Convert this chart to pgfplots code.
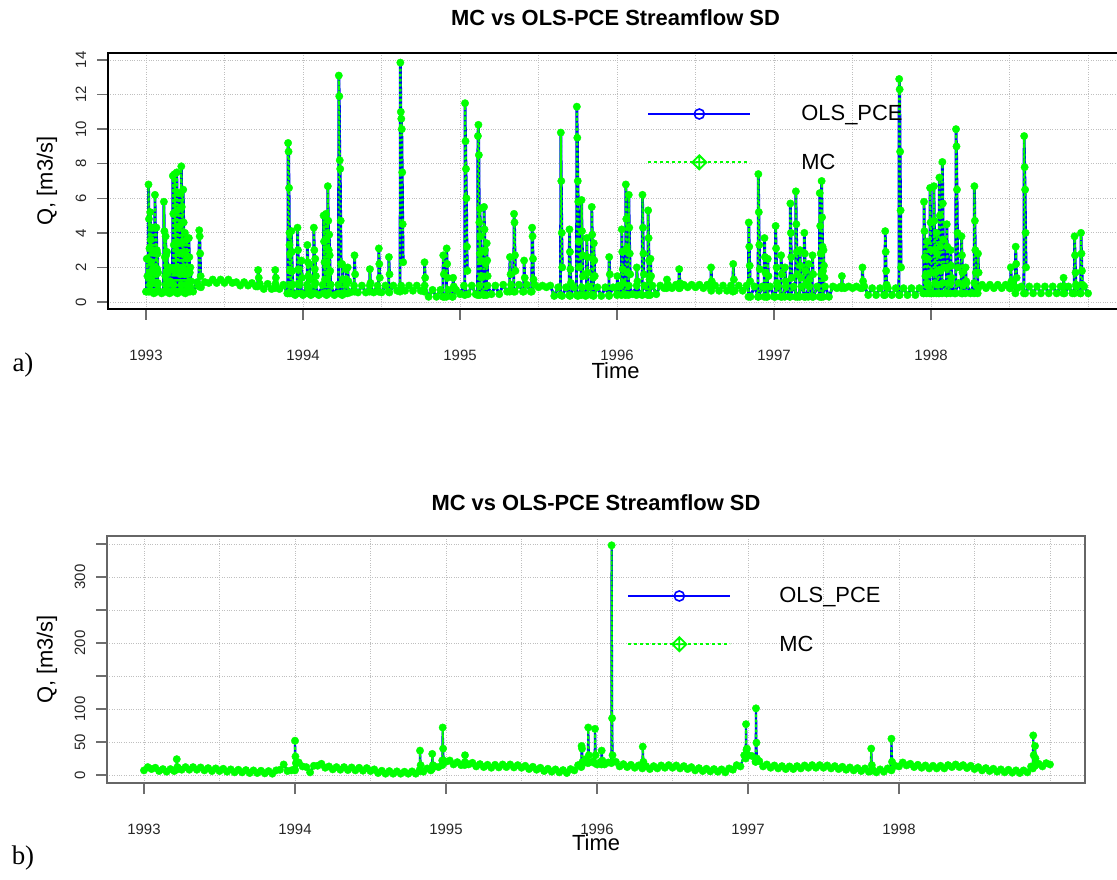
\documentclass[border=0pt]{standalone}
\usepackage{fontspec}
\setmainfont{Liberation Sans}
\newfontfamily\serifA{Liberation Serif}
\usepackage{pgfplots}
\usepackage{pgfplotstable}
\pgfplotsset{compat=1.18}
\definecolor{rblue}{RGB}{0,0,255}
\definecolor{rgreen}{RGB}{0,255,0}
\definecolor{tickgray}{RGB}{110,110,110}
\pgfdeclareplotmark{dplus}{%
  \pgfpathmoveto{\pgfqpoint{0pt}{\pgfplotmarksize}}%
  \pgfpathlineto{\pgfqpoint{\pgfplotmarksize}{0pt}}%
  \pgfpathlineto{\pgfqpoint{0pt}{-\pgfplotmarksize}}%
  \pgfpathlineto{\pgfqpoint{-\pgfplotmarksize}{0pt}}%
  \pgfpathclose
  \pgfpathmoveto{\pgfqpoint{0pt}{\pgfplotmarksize}}%
  \pgfpathlineto{\pgfqpoint{0pt}{-\pgfplotmarksize}}%
  \pgfpathmoveto{\pgfqpoint{\pgfplotmarksize}{0pt}}%
  \pgfpathlineto{\pgfqpoint{-\pgfplotmarksize}{0pt}}%
  \pgfusepathqstroke}

% ---------- panel a: baseline ----------
\pgfplotstableread[row sep=\\]{t q\\
1993.000 0.6\\1993.025 1.0\\1993.050 0.5\\1993.075 1.0\\1993.100 0.5\\1993.125 1.0\\1993.150 0.5\\1993.175 1.0\\1993.200 0.5\\1993.225 1.0\\
1993.250 0.5\\1993.275 1.0\\1993.300 0.6\\1993.325 1.15\\1993.350 0.85\\1993.375 1.15\\1993.400 1.1\\1993.425 1.3\\1993.450 1.1\\1993.475 1.3\\
1993.500 1.1\\1993.525 1.3\\1993.550 1.1\\1993.575 1.15\\1993.600 0.95\\1993.625 1.15\\1993.650 0.95\\1993.675 1.1\\1993.700 0.9\\1993.725 1.05\\
1993.750 0.75\\1993.775 1.05\\1993.800 0.75\\1993.825 1.05\\1993.850 0.75\\1993.875 1.0\\1993.900 0.5\\1993.925 1.0\\1993.950 0.4\\1993.975 1.0\\
1994.000 0.4\\1994.025 1.0\\1994.050 0.4\\1994.075 1.0\\1994.100 0.4\\1994.125 1.0\\1994.150 0.4\\1994.175 1.0\\1994.200 0.4\\1994.225 1.0\\
1994.250 0.4\\1994.275 1.0\\1994.300 0.55\\1994.325 0.95\\1994.350 0.55\\1994.375 0.95\\1994.400 0.55\\1994.425 0.95\\1994.450 0.55\\1994.475 0.95\\
1994.500 0.55\\1994.525 0.95\\1994.550 0.55\\1994.575 0.95\\1994.600 0.65\\1994.625 0.95\\1994.650 0.65\\1994.675 0.95\\1994.700 0.65\\1994.725 0.95\\
1994.750 0.65\\1994.775 0.95\\1994.800 0.3\\1994.825 0.7\\1994.850 0.3\\1994.875 0.7\\1994.900 0.3\\1994.925 0.7\\1994.950 0.3\\1994.975 0.7\\
1995.000 0.45\\1995.025 0.95\\1995.050 0.45\\1995.075 0.95\\1995.100 0.45\\1995.125 0.95\\1995.150 0.45\\1995.175 0.95\\1995.200 0.45\\1995.225 0.95\\
1995.250 0.45\\1995.275 1.0\\1995.300 0.6\\1995.325 1.0\\1995.350 0.6\\1995.375 1.0\\1995.400 0.6\\1995.425 1.0\\1995.450 0.6\\1995.475 1.0\\
1995.500 0.85\\1995.525 0.95\\1995.550 0.85\\1995.575 0.95\\1995.600 0.35\\1995.625 0.85\\1995.650 0.35\\1995.675 0.85\\1995.700 0.35\\1995.725 0.85\\
1995.750 0.35\\1995.775 0.85\\1995.800 0.35\\1995.825 0.85\\1995.850 0.35\\1995.875 0.85\\1995.900 0.35\\1995.925 0.85\\1995.950 0.35\\1995.975 0.85\\
1996.000 0.45\\1996.025 0.95\\1996.050 0.45\\1996.075 0.95\\1996.100 0.45\\1996.125 0.95\\1996.150 0.45\\1996.175 0.95\\1996.200 0.45\\1996.225 0.95\\
1996.250 0.45\\1996.275 0.95\\1996.300 0.8\\1996.325 1.0\\1996.350 0.8\\1996.375 1.0\\1996.400 0.8\\1996.425 1.0\\1996.450 0.85\\1996.475 1.0\\
1996.500 0.85\\1996.525 1.0\\1996.550 0.8\\1996.575 1.0\\1996.600 0.65\\1996.625 0.95\\1996.650 0.65\\1996.675 0.95\\1996.700 0.65\\1996.725 0.95\\
1996.750 0.65\\1996.775 0.95\\1996.800 0.65\\1996.825 0.95\\1996.850 0.3\\1996.875 0.9\\1996.900 0.3\\1996.925 0.9\\1996.950 0.3\\1996.975 0.9\\
1997.000 0.3\\1997.025 0.9\\1997.050 0.3\\1997.075 0.9\\1997.100 0.3\\1997.125 0.9\\1997.150 0.3\\1997.175 0.9\\1997.200 0.3\\1997.225 0.9\\
1997.250 0.3\\1997.275 0.9\\1997.300 0.3\\1997.325 0.9\\1997.350 0.3\\1997.375 0.9\\1997.400 0.8\\1997.425 0.9\\1997.450 0.8\\1997.475 0.9\\
1997.500 0.8\\1997.525 0.9\\1997.550 0.8\\1997.575 0.9\\1997.600 0.4\\1997.625 0.8\\1997.650 0.4\\1997.675 0.8\\1997.700 0.4\\1997.725 0.8\\
1997.750 0.4\\1997.775 0.8\\1997.800 0.4\\1997.825 0.8\\1997.850 0.4\\1997.875 0.8\\1997.900 0.4\\1997.925 0.8\\1997.950 0.5\\1997.975 1.1\\
1998.000 0.5\\1998.025 1.1\\1998.050 0.5\\1998.075 1.1\\1998.100 0.5\\1998.125 1.1\\1998.150 0.5\\1998.175 1.1\\1998.200 0.5\\1998.225 1.1\\
1998.250 0.5\\1998.275 1.1\\1998.300 0.8\\1998.325 1.0\\1998.350 0.8\\1998.375 1.0\\1998.400 0.8\\1998.425 1.0\\1998.450 0.8\\1998.475 1.0\\
1998.500 0.8\\1998.525 1.0\\1998.550 0.8\\1998.575 0.9\\1998.600 0.5\\1998.625 0.9\\1998.650 0.5\\1998.675 0.9\\1998.700 0.5\\1998.725 0.9\\
1998.750 0.5\\1998.775 0.9\\1998.800 0.5\\1998.825 0.9\\1998.850 0.5\\1998.875 0.9\\1998.900 0.5\\1998.925 0.9\\1998.950 0.5\\1998.975 0.9\\
1999.000 0.5\\
}\baseA

% ---------- panel a: flow peaks ----------
\pgfplotstableread[row sep=\\]{t q\\
1993.003 0.6\\1993.005 2.5\\1993.009 1.5\\1993.010 nan\\
1993.014 0.6\\1993.016 6.8\\1993.019 4.8\\1993.022 3.1\\1993.025 1.7\\1993.026 nan\\
1993.025 0.6\\1993.027 5.2\\1993.030 3.6\\1993.033 2.3\\1993.036 1.3\\1993.037 nan\\
1993.037 0.6\\1993.039 4.3\\1993.042 3.0\\1993.045 1.9\\1993.048 1.1\\1993.049 nan\\
1993.055 0.6\\1993.057 6.2\\1993.060 4.3\\1993.063 2.8\\1993.066 1.6\\1993.067 nan\\
1993.064 0.6\\1993.066 4.3\\1993.069 3.0\\1993.072 1.9\\1993.075 1.1\\1993.076 nan\\
1993.071 0.6\\1993.073 2.8\\1993.077 1.7\\1993.078 nan\\
1993.112 0.6\\1993.114 5.8\\1993.117 4.1\\1993.120 2.6\\1993.123 1.5\\1993.124 nan\\
1993.123 0.6\\1993.125 3.8\\1993.128 2.7\\1993.131 1.7\\1993.134 1.0\\1993.135 nan\\
1993.132 0.6\\1993.134 2.9\\1993.138 1.7\\1993.139 nan\\
1993.148 0.6\\1993.150 2.0\\1993.154 1.2\\1993.155 nan\\
1993.169 0.6\\1993.171 7.3\\1993.174 5.1\\1993.177 3.3\\1993.180 1.8\\1993.181 nan\\
1993.180 0.6\\1993.182 7.4\\1993.185 5.2\\1993.188 3.3\\1993.191 1.9\\1993.192 nan\\
1993.194 0.6\\1993.196 7.5\\1993.199 5.3\\1993.202 3.4\\1993.205 1.9\\1993.206 nan\\
1993.207 0.6\\1993.209 6.3\\1993.212 4.4\\1993.215 2.8\\1993.218 1.6\\1993.219 nan\\
1993.223 0.6\\1993.225 7.85\\1993.228 5.5\\1993.231 3.5\\1993.234 2.0\\1993.235 nan\\
1993.235 0.6\\1993.237 6.5\\1993.240 4.6\\1993.243 2.9\\1993.246 1.6\\1993.247 nan\\
1993.246 0.6\\1993.248 4.0\\1993.251 2.8\\1993.254 1.8\\1993.257 1.0\\1993.258 nan\\
1993.257 0.6\\1993.259 3.6\\1993.262 2.5\\1993.265 1.6\\1993.268 0.9\\1993.269 nan\\
1993.271 0.6\\1993.273 3.7\\1993.276 2.6\\1993.279 1.7\\1993.282 0.9\\1993.283 nan\\
1993.280 0.6\\1993.282 2.0\\1993.286 1.2\\1993.287 nan\\
1993.337 0.9\\1993.339 4.15\\1993.342 3.8\\1993.345 2.8\\1993.348 1.5\\1993.349 nan\\
1993.712 0.9\\1993.714 1.85\\1993.718 1.4\\1993.719 nan\\
1993.821 0.8\\1993.823 1.85\\1993.827 1.4\\1993.828 nan\\
1993.903 0.5\\1993.905 9.2\\1993.908 8.7\\1993.911 6.6\\1993.914 3.3\\1993.917 1.8\\1993.918 nan\\
1993.912 0.5\\1993.914 4.0\\1993.917 2.8\\1993.920 1.8\\1993.923 1.0\\1993.924 nan\\
1993.924 0.5\\1993.926 4.1\\1993.929 2.9\\1993.932 1.8\\1993.935 1.0\\1993.936 nan\\
1993.963 0.5\\1993.965 4.3\\1993.968 3.0\\1993.971 1.9\\1993.974 1.1\\1993.975 nan\\
1993.988 0.5\\1993.990 2.4\\1993.994 1.4\\1993.995 nan\\
1994.026 0.5\\1994.028 3.3\\1994.031 2.3\\1994.034 1.5\\1994.037 0.8\\1994.038 nan\\
1994.038 0.5\\1994.040 2.2\\1994.044 1.3\\1994.045 nan\\
1994.067 0.5\\1994.069 4.3\\1994.072 3.0\\1994.075 1.9\\1994.078 1.1\\1994.079 nan\\
1994.076 0.5\\1994.078 2.5\\1994.082 1.5\\1994.083 nan\\
1994.129 0.5\\1994.131 5.0\\1994.134 3.5\\1994.137 2.3\\1994.140 1.3\\1994.141 nan\\
1994.144 0.5\\1994.146 5.1\\1994.149 3.6\\1994.152 2.3\\1994.155 1.3\\1994.156 nan\\
1994.156 0.5\\1994.158 6.7\\1994.161 4.7\\1994.164 3.0\\1994.167 1.7\\1994.168 nan\\
1994.165 0.5\\1994.167 3.9\\1994.170 2.7\\1994.173 1.8\\1994.176 1.0\\1994.177 nan\\
1994.226 0.5\\1994.228 13.1\\1994.231 11.9\\1994.234 8.2\\1994.237 7.7\\1994.240 4.7\\1994.243 2.2\\1994.244 nan\\
1994.247 0.5\\1994.249 2.2\\1994.253 1.3\\1994.254 nan\\
1994.272 0.5\\1994.274 1.9\\1994.278 1.1\\1994.279 nan\\
1994.283 0.5\\1994.285 2.0\\1994.289 1.2\\1994.290 nan\\
1994.326 0.6\\1994.328 2.7\\1994.332 1.6\\1994.333 nan\\
1994.424 0.6\\1994.426 1.9\\1994.430 1.1\\1994.431 nan\\
1994.481 0.6\\1994.483 3.1\\1994.486 2.2\\1994.489 1.4\\1994.490 nan\\
1994.545 0.6\\1994.547 2.6\\1994.551 1.6\\1994.552 nan\\
1994.618 0.6\\1994.620 13.85\\1994.623 11.0\\1994.626 10.6\\1994.629 10.0\\1994.632 7.5\\1994.635 4.5\\1994.638 2.3\\1994.639 nan\\
1994.772 0.6\\1994.774 2.3\\1994.778 1.4\\1994.779 nan\\
1994.891 0.3\\1994.893 2.7\\1994.897 1.6\\1994.898 nan\\
1994.913 0.3\\1994.915 3.1\\1994.918 2.2\\1994.921 1.4\\1994.922 nan\\
1994.954 0.3\\1994.956 1.4\\1994.960 0.9\\1994.961 nan\\
1995.030 0.4\\1995.032 11.5\\1995.035 9.3\\1995.038 7.7\\1995.041 6.0\\1995.044 3.2\\1995.047 1.8\\1995.048 nan\\
1995.112 0.4\\1995.114 9.6\\1995.117 10.25\\1995.120 8.5\\1995.123 4.6\\1995.126 2.8\\1995.127 nan\\
1995.125 0.4\\1995.127 5.4\\1995.130 3.8\\1995.133 2.4\\1995.136 1.4\\1995.137 nan\\
1995.151 0.4\\1995.153 5.5\\1995.156 4.2\\1995.159 3.0\\1995.162 2.2\\1995.163 nan\\
1995.168 0.4\\1995.170 3.4\\1995.173 2.4\\1995.176 1.5\\1995.177 nan\\
1995.316 0.6\\1995.318 2.6\\1995.322 1.6\\1995.323 nan\\
1995.342 0.6\\1995.344 5.1\\1995.347 4.6\\1995.350 2.7\\1995.353 1.8\\1995.354 nan\\
1995.406 0.6\\1995.408 2.4\\1995.412 1.4\\1995.413 nan\\
1995.457 0.6\\1995.459 4.3\\1995.462 3.8\\1995.465 2.5\\1995.468 1.3\\1995.469 nan\\
1995.640 0.4\\1995.642 9.8\\1995.645 7.0\\1995.648 4.0\\1995.651 2.0\\1995.652 nan\\
1995.695 0.4\\1995.697 4.2\\1995.700 2.9\\1995.703 1.9\\1995.706 1.1\\1995.707 nan\\
1995.742 0.4\\1995.744 11.3\\1995.747 9.5\\1995.750 7.0\\1995.753 5.8\\1995.756 3.5\\1995.759 2.0\\1995.760 nan\\
1995.772 0.4\\1995.774 5.9\\1995.777 4.1\\1995.780 2.7\\1995.783 1.5\\1995.784 nan\\
1995.805 0.4\\1995.807 3.7\\1995.810 2.6\\1995.813 1.7\\1995.816 0.9\\1995.817 nan\\
1995.837 0.4\\1995.839 5.5\\1995.842 3.9\\1995.845 2.5\\1995.848 1.4\\1995.849 nan\\
1995.850 0.4\\1995.852 3.4\\1995.855 2.4\\1995.858 1.5\\1995.859 nan\\
1995.948 0.4\\1995.950 2.6\\1995.954 1.6\\1995.955 nan\\
1996.000 0.4\\1996.002 1.5\\1996.006 0.9\\1996.007 nan\\
1996.028 0.4\\1996.030 4.2\\1996.033 2.9\\1996.036 1.9\\1996.039 1.1\\1996.040 nan\\
1996.054 0.4\\1996.056 6.8\\1996.059 4.8\\1996.062 3.1\\1996.065 1.7\\1996.066 nan\\
1996.073 0.4\\1996.075 6.2\\1996.078 4.3\\1996.081 2.8\\1996.084 1.6\\1996.085 nan\\
1996.124 0.4\\1996.126 2.0\\1996.130 1.2\\1996.131 nan\\
1996.160 0.4\\1996.162 6.2\\1996.165 4.3\\1996.168 2.8\\1996.171 1.6\\1996.172 nan\\
1996.196 0.4\\1996.198 5.3\\1996.201 3.7\\1996.204 2.4\\1996.207 1.3\\1996.208 nan\\
1996.211 0.4\\1996.213 2.5\\1996.217 1.5\\1996.218 nan\\
1996.316 0.8\\1996.318 1.3\\1996.322 1.0\\1996.323 nan\\
1996.394 0.8\\1996.396 1.9\\1996.400 1.1\\1996.401 nan\\
1996.597 0.8\\1996.599 2.0\\1996.603 1.2\\1996.604 nan\\
1996.738 0.6\\1996.740 2.2\\1996.744 1.3\\1996.745 nan\\
1996.837 0.3\\1996.839 4.6\\1996.842 3.2\\1996.845 2.1\\1996.848 1.2\\1996.849 nan\\
1996.898 0.3\\1996.900 7.4\\1996.903 5.2\\1996.906 3.3\\1996.909 1.9\\1996.910 nan\\
1996.937 0.3\\1996.939 3.7\\1996.942 2.6\\1996.945 1.7\\1996.948 0.9\\1996.949 nan\\
1996.958 0.3\\1996.960 2.5\\1996.964 1.5\\1996.965 nan\\
1997.008 0.3\\1997.010 4.4\\1997.013 3.1\\1997.016 2.0\\1997.019 1.1\\1997.020 nan\\
1997.043 0.3\\1997.045 2.7\\1997.049 1.6\\1997.050 nan\\
1997.068 0.3\\1997.070 2.0\\1997.074 1.2\\1997.075 nan\\
1997.102 0.3\\1997.104 5.7\\1997.107 4.0\\1997.110 2.6\\1997.113 1.4\\1997.114 nan\\
1997.137 0.3\\1997.139 6.4\\1997.142 4.5\\1997.145 2.9\\1997.148 1.6\\1997.149 nan\\
1997.163 0.3\\1997.165 3.0\\1997.168 2.1\\1997.171 1.4\\1997.172 nan\\
1997.191 0.3\\1997.193 4.0\\1997.196 2.8\\1997.199 1.8\\1997.202 1.0\\1997.203 nan\\
1997.218 0.3\\1997.220 2.2\\1997.224 1.3\\1997.225 nan\\
1997.243 0.3\\1997.245 2.7\\1997.249 1.6\\1997.250 nan\\
1997.289 0.3\\1997.291 6.3\\1997.294 4.4\\1997.297 2.8\\1997.300 1.6\\1997.301 nan\\
1997.301 0.3\\1997.303 7.0\\1997.306 4.9\\1997.309 3.2\\1997.312 1.8\\1997.313 nan\\
1997.313 0.3\\1997.315 3.0\\1997.318 2.1\\1997.321 1.4\\1997.322 nan\\
1997.430 0.8\\1997.432 1.5\\1997.436 0.9\\1997.437 nan\\
1997.561 0.8\\1997.563 2.0\\1997.567 1.2\\1997.568 nan\\
1997.706 0.4\\1997.708 4.1\\1997.711 2.9\\1997.714 1.8\\1997.717 1.0\\1997.718 nan\\
1997.795 0.4\\1997.797 12.9\\1997.800 12.3\\1997.803 8.7\\1997.806 5.3\\1997.809 2.0\\1997.810 nan\\
1997.953 0.5\\1997.955 5.8\\1997.958 4.1\\1997.961 2.6\\1997.964 1.5\\1997.965 nan\\
1997.973 0.5\\1997.975 3.5\\1997.978 2.5\\1997.981 1.6\\1997.984 0.9\\1997.985 nan\\
1997.992 0.5\\1997.994 6.6\\1997.997 4.6\\1998.000 3.0\\1998.003 1.7\\1998.004 nan\\
1998.016 0.5\\1998.018 6.7\\1998.021 4.7\\1998.024 3.0\\1998.027 1.7\\1998.028 nan\\
1998.033 0.5\\1998.035 4.0\\1998.038 2.8\\1998.041 1.8\\1998.044 1.0\\1998.045 nan\\
1998.051 0.5\\1998.053 7.2\\1998.056 5.0\\1998.059 3.2\\1998.062 1.8\\1998.063 nan\\
1998.070 0.5\\1998.072 8.1\\1998.075 5.7\\1998.078 3.6\\1998.081 2.0\\1998.082 nan\\
1998.098 0.5\\1998.100 4.5\\1998.103 3.2\\1998.106 2.0\\1998.109 1.1\\1998.110 nan\\
1998.123 0.5\\1998.125 3.0\\1998.128 2.1\\1998.131 1.4\\1998.132 nan\\
1998.157 0.5\\1998.159 10.0\\1998.162 9.0\\1998.165 6.5\\1998.168 4.0\\1998.171 2.0\\1998.172 nan\\
1998.192 0.5\\1998.194 3.8\\1998.197 2.7\\1998.200 1.7\\1998.203 1.0\\1998.204 nan\\
1998.218 0.5\\1998.220 2.0\\1998.224 1.2\\1998.225 nan\\
1998.274 0.5\\1998.276 6.7\\1998.279 4.7\\1998.282 3.0\\1998.285 1.7\\1998.286 nan\\
1998.297 0.5\\1998.299 2.8\\1998.303 1.7\\1998.304 nan\\
1998.506 0.8\\1998.508 2.0\\1998.512 1.2\\1998.513 nan\\
1998.537 0.5\\1998.539 3.2\\1998.542 2.2\\1998.545 1.4\\1998.546 nan\\
1998.591 0.5\\1998.593 9.6\\1998.596 7.8\\1998.599 6.5\\1998.602 4.0\\1998.605 2.0\\1998.606 nan\\
1998.842 0.5\\1998.844 1.4\\1998.848 0.9\\1998.849 nan\\
1998.912 0.5\\1998.914 3.8\\1998.917 2.7\\1998.920 1.7\\1998.923 1.0\\1998.924 nan\\
1998.953 0.5\\1998.955 4.0\\1998.958 2.8\\1998.961 1.8\\1998.964 1.0\\1998.965 nan\\
}\peakA

% ---------- panel b: baseline ----------
\pgfplotstableread[row sep=\\]{t q\\
1993.000 7\\1993.025 12\\1993.050 9\\1993.075 11\\1993.100 6\\1993.125 9\\1993.150 5\\1993.175 9\\1993.200 6\\1993.225 11\\
1993.250 8\\1993.275 12\\1993.300 8\\1993.325 12\\1993.350 8\\1993.375 11.5\\1993.400 7\\1993.425 10.5\\1993.450 6\\1993.475 10\\
1993.500 6\\1993.525 9.5\\1993.550 5\\1993.575 8.5\\1993.600 4\\1993.625 8\\1993.650 4\\1993.675 7.5\\1993.700 3\\1993.725 7\\
1993.750 3\\1993.775 6.5\\1993.800 2.5\\1993.825 6\\1993.850 2\\1993.875 7\\1993.900 8\\1993.925 16\\1993.950 6\\1993.975 7\\
1994.000 7\\1994.025 19\\1994.050 13\\1994.075 12\\1994.100 4\\1994.125 14\\1994.150 14\\1994.175 17\\1994.200 11\\1994.225 13\\
1994.250 8.5\\1994.275 12\\1994.300 8\\1994.325 12\\1994.350 7.5\\1994.375 11.5\\1994.400 7\\1994.425 11\\1994.450 6.5\\1994.475 10.5\\
1994.500 6\\1994.525 8.5\\1994.550 3\\1994.575 6.5\\1994.600 2\\1994.625 6\\1994.650 2\\1994.675 5.5\\1994.700 2\\1994.725 5\\
1994.750 2\\1994.775 5.5\\1994.800 2\\1994.825 7.5\\1994.850 5\\1994.875 10\\1994.900 7\\1994.925 13\\1994.950 12\\1994.975 22\\
1995.000 20\\1995.025 22\\1995.050 16\\1995.075 19.5\\1995.100 15\\1995.125 19.5\\1995.150 16\\1995.175 18.5\\1995.200 13\\1995.225 16.5\\
1995.250 12\\1995.275 15.5\\1995.300 11\\1995.325 15.5\\1995.350 11.5\\1995.375 16\\1995.400 12\\1995.425 16\\1995.450 11.5\\1995.475 15\\
1995.500 11\\1995.525 14\\1995.550 9\\1995.575 12.5\\1995.600 8\\1995.625 11\\1995.650 6\\1995.675 9.5\\1995.700 5\\1995.725 8.5\\
1995.750 4\\1995.775 7.5\\1995.800 3\\1995.825 9\\1995.850 7\\1995.875 15\\1995.900 15\\1995.925 24\\1995.950 19\\1995.975 21\\
1996.000 16\\1996.025 20\\1996.050 16\\1996.075 19\\1996.100 20\\1996.125 20\\1996.150 13\\1996.175 16.5\\1996.200 12\\1996.225 15.5\\
1996.250 11\\1996.275 14.5\\1996.300 10\\1996.325 13.5\\1996.350 9\\1996.375 13.5\\1996.400 10\\1996.425 14.5\\1996.450 11\\1996.475 15\\
1996.500 11\\1996.525 14.5\\1996.550 10\\1996.575 13.5\\1996.600 9\\1996.625 12\\1996.650 7\\1996.675 10.5\\1996.700 6\\1996.725 9.5\\
1996.750 5.5\\1996.775 9\\1996.800 5\\1996.825 8.5\\1996.850 4\\1996.875 10\\1996.900 8\\1996.925 15\\1996.950 13\\1996.975 30\\
1997.000 30\\1997.025 29\\1997.050 20\\1997.075 21\\1997.100 13\\1997.125 16\\1997.150 11\\1997.175 14.5\\1997.200 10\\1997.225 13.5\\
1997.250 9\\1997.275 13\\1997.300 9\\1997.325 13.5\\1997.350 10\\1997.375 14.5\\1997.400 11\\1997.425 15\\1997.450 11\\1997.475 15\\
1997.500 11\\1997.525 14.5\\1997.550 10\\1997.575 13.5\\1997.600 9\\1997.625 12.5\\1997.650 8\\1997.675 11.5\\1997.700 7\\1997.725 10.5\\
1997.750 6\\1997.775 10\\1997.800 5\\1997.825 8.5\\1997.850 4\\1997.875 8.5\\1997.900 5\\1997.925 10\\1997.950 7\\1997.975 14\\
1998.000 13\\1998.025 19\\1998.050 14.5\\1998.075 17\\1998.100 12\\1998.125 15.5\\1998.150 11\\1998.175 14.5\\1998.200 10\\1998.225 14\\
1998.250 10\\1998.275 14\\1998.300 10\\1998.325 15\\1998.350 12\\1998.375 16\\1998.400 12\\1998.425 15\\1998.450 10.5\\1998.475 14\\
1998.500 9\\1998.525 12\\1998.550 7\\1998.575 10.5\\1998.600 6\\1998.625 9.5\\1998.650 5\\1998.675 8.5\\1998.700 4\\1998.725 8\\
1998.750 3.5\\1998.775 7\\1998.800 3\\1998.825 7\\1998.850 4\\1998.875 13\\1998.900 14\\1998.925 17\\1998.950 13\\1998.975 18\\
1999.000 16\\
}\baseB

% ---------- panel b: flow peaks ----------
\pgfplotstableread[row sep=\\]{t q\\
1993.215 8\\1993.217 24\\1993.221 12\\1993.222 nan\\
1993.998 9\\1994.000 52\\1994.003 28\\1994.006 18\\1994.007 nan\\
1994.826 6\\1994.828 37\\1994.832 15\\1994.833 nan\\
1994.907 9\\1994.909 32\\1994.913 15\\1994.914 nan\\
1994.976 15\\1994.978 72\\1994.981 40\\1994.984 22\\1994.985 nan\\
1995.124 15\\1995.126 30\\1995.130 18\\1995.131 nan\\
1995.896 12\\1995.898 44\\1995.901 40\\1995.904 20\\1995.905 nan\\
1995.940 18\\1995.942 72\\1995.946 30\\1995.947 nan\\
1995.985 18\\1995.987 70\\1995.991 30\\1995.992 nan\\
1996.029 16\\1996.031 37\\1996.035 22\\1996.036 nan\\
1996.095 18\\1996.097 348\\1996.100 86\\1996.103 30\\1996.104 nan\\
1996.301 12\\1996.303 43\\1996.307 20\\1996.308 nan\\
1996.985 25\\1996.987 77\\1996.990 38\\1996.993 40\\1996.994 nan\\
1997.051 20\\1997.053 101\\1997.056 49\\1997.059 25\\1997.060 nan\\
1997.814 6\\1997.816 40\\1997.820 15\\1997.821 nan\\
1997.948 8\\1997.950 55\\1997.954 20\\1997.955 nan\\
1998.887 10\\1998.889 60\\1998.892 30\\1998.893 nan\\
1998.899 14\\1998.901 44\\1998.904 25\\1998.905 nan\\
}\peakB

\pgfplotsset{
  rstyle/.style={
    scale only axis,
    anchor=south west,
    tick pos=left,
    tick align=outside,
    major tick length=11bp,
    tick style={tickgray, line width=1.3bp},
    xtick={1993,1994,1995,1996,1997,1998},
    minor xtick={1993.5,1994.5,1995.5,1996.5,1997.5,1998.5,1999},
    minor tick length=0pt,
    xmajorgrids, xminorgrids, ymajorgrids,
    grid style={black!25, dotted, line width=0.9bp},
    /pgf/number format/1000 sep={},
    /pgf/number format/assume math mode=true,
    tick label style={font=\fontsize{15}{18}\selectfont, text=black!85},
    xticklabel style={anchor=center, yshift=-35bp},
    yticklabel style={xshift=-16bp, rotate=90, anchor=center},
    label style={font=\fontsize{22}{26}\selectfont},
    title style={font=\fontsize{22}{26}\selectfont\bfseries},
    unbounded coords=jump,
    legend cell align=left,
    legend image code/.code={\draw[mark repeat=2,mark phase=2,##1] plot coordinates {(0bp,0bp) (51bp,0bp) (102bp,0bp)};},
  },
  olsline/.style={rblue, line width=#1, forget plot},
  mcline/.style={rgreen, line width=#1, dash pattern=on 2.5bp off 2.5bp, mark=*, mark size=3.7bp,
     mark options={solid, fill=rgreen, draw=rgreen, line width=0.4bp}, forget plot},
}

\begin{document}
\begin{tikzpicture}
\useasboundingbox (0,0) rectangle (1117bp,880bp);

% ================= panel a =================
\begin{axis}[rstyle,
  at={(108bp,571bp)}, width=1015bp, height=256bp,
  xmin=1992.758, xmax=1999.223, ymin=-0.405, ymax=14.405,
  ytick={0,2,4,6,8,10,12,14},
  axis line style={black, line width=1.3bp},
  title={MC vs OLS-PCE Streamflow SD},
  title style={at={([yshift=29bp]axis description cs:0.5,1)}, anchor=center},
  xlabel={Time},
  xlabel style={at={([yshift=-62bp]axis description cs:0.5,0)}, anchor=center},
  ylabel={Q, [m3/s]},
  ylabel style={at={([xshift=-61bp]axis description cs:0,0.5)}, anchor=center},
  legend style={draw=none, fill=none, inner sep=0pt, font=\fontsize{22}{26}\selectfont,
    row sep=27.5bp, /tikz/every odd column/.append style={column sep=48bp},
    at={(0.531,0.803)}, anchor=north west},
]
\addplot[olsline=2.8bp] table[x=t,y=q]{\baseA};
\addplot[olsline=2.8bp] table[x=t,y=q]{\peakA};
\addplot[mcline=2.2bp] table[x=t,y=q]{\baseA};
\addplot[mcline=2.2bp] table[x=t,y=q]{\peakA};
\addlegendimage{rblue, line width=2bp, mark=o, mark size=5bp, mark options={solid, line width=1.6bp}}
\addlegendentry{OLS\_PCE}
\addlegendimage{rgreen, line width=2.2bp, dash pattern=on 2.2bp off 3.8bp, mark=dplus, mark size=7bp, mark options={solid, line width=1.8bp}}
\addlegendentry{MC}
\end{axis}

% ================= panel b =================
\begin{axis}[rstyle,
  at={(107bp,97bp)}, width=978bp, height=247bp,
  xmin=1992.755, xmax=1999.232, ymin=-12.1, ymax=362.1,
  ytick={0,50,100,150,200,250,300,350},
  yticklabels={0,50,100,,200,,300,},
  axis line style={black!60, line width=1.3bp},
  title={MC vs OLS-PCE Streamflow SD},
  title style={at={([yshift=27bp]axis description cs:0.5,1)}, anchor=center},
  xlabel={Time},
  xlabel style={at={([yshift=-60bp]axis description cs:0.5,0)}, anchor=center},
  ylabel={Q, [m3/s]},
  ylabel style={at={([xshift=-60bp]axis description cs:0,0.5)}, anchor=center},
  legend style={draw=none, fill=none, inner sep=0pt, font=\fontsize{22}{26}\selectfont,
    row sep=27.5bp, /tikz/every odd column/.append style={column sep=46bp},
    at={(0.5317,0.800)}, anchor=north west},
]
\addplot[olsline=2.2bp] table[x=t,y=q]{\baseB};
\addplot[olsline=2.2bp] table[x=t,y=q]{\peakB};
\addplot[mcline=2bp] table[x=t,y=q]{\baseB};
\addplot[mcline=2bp] table[x=t,y=q]{\peakB};
\addlegendimage{rblue, line width=2bp, mark=o, mark size=5bp, mark options={solid, line width=1.6bp}}
\addlegendentry{OLS\_PCE}
\addlegendimage{rgreen, line width=2.2bp, dash pattern=on 2.2bp off 3.8bp, mark=dplus, mark size=7bp, mark options={solid, line width=1.8bp}}
\addlegendentry{MC}
\end{axis}

\node[font=\serifA\fontsize{27}{30}\selectfont] at (23bp,515bp) {a)};
\node[font=\serifA\fontsize{27}{30}\selectfont] at (23bp,22bp) {b)};
\end{tikzpicture}
\end{document}
